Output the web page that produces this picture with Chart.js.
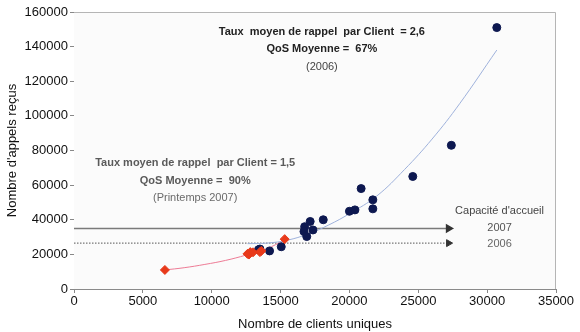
<!DOCTYPE html>
<html>
<head>
<meta charset="utf-8">
<script src="https://cdn.jsdelivr.net/npm/chart.js@4/dist/chart.umd.min.js"></script>
<style>
  html, body { margin: 0; padding: 0; background: #ffffff; }
  #wrap { width: 580px; height: 332px; }
</style>
</head>
<body>
<div id="wrap"><canvas id="c" width="580" height="332"></canvas></div>
<script>
// Clients uniques (x) vs appels reçus (y)
const clients2006 = [30700, 27400, 24600, 20850, 21700, 21700, 20000, 20400, 18100, 17150, 16750, 17350, 16700, 16900, 15050, 14200, 13500, 13400];
const appels2006  = [151000, 83000, 65000, 58000, 51500, 46300, 44900, 45700, 40000, 39000, 36000, 34100, 33200, 30300, 24400, 22000, 23100, 22700];

const clients2007 = [6600, 12600, 12800, 12700, 13000, 13600, 13500, 15300];
const appels2007  = [11000, 20300, 21300, 19900, 21200, 22000, 21300, 28800];

// Courbes de tendance
const tendance2006X = [12600, 14000, 15500, 17000, 18500, 20000, 22000, 24000, 26000, 28000, 30700];
const tendance2006Y = [26200, 26500, 28200, 31800, 37000, 43500, 53800, 69000, 86600, 107000, 138000];
const tendance2007X = [6600, 8000, 9500, 11000, 12500, 14000, 15300];
const tendance2007Y = [11000, 12300, 14200, 16500, 19600, 23300, 28300];

// Capacité d'accueil
const capaciteFinX = 27200;
const capacite2007 = 35000;
const capacite2006 = 26500;

const xTicks = [0, 5000, 10000, 15000, 20000, 25000, 30000, 35000];
const yTicks = [0, 20000, 40000, 60000, 80000, 100000, 120000, 140000, 160000];

const zip = (xs, ys) => xs.map((x, i) => ({ x: x, y: ys[i] }));

// Texts placed in data coordinates
const notes = [
  { x: 18000, y: 148500, text: 'Taux  moyen de rappel  par Client  = 2,6', bold: true, color: '#222222' },
  { x: 18000, y: 138600, text: 'QoS Moyenne =  67%', bold: true, color: '#222222' },
  { x: 18000, y: 128200, text: '(2006)', bold: false, color: '#444444' },
  { x: 8800, y: 72800, text: 'Taux moyen de rappel  par Client = 1,5', bold: true, color: '#5a5a5a' },
  { x: 8800, y: 62400, text: 'QoS Moyenne =  90%', bold: true, color: '#5a5a5a' },
  { x: 8800, y: 52600, text: '(Printemps 2007)', bold: false, color: '#6a6a6a' },
  { x: 30900, y: 45000, text: "Capacité d'accueil", bold: false, color: '#444444' },
  { x: 30900, y: 35200, text: '2007', bold: false, color: '#555555' },
  { x: 30900, y: 26000, text: '2006', bold: false, color: '#666666' }
];

const notesPlugin = {
  id: 'notes',
  beforeDatasetsDraw(chart) {
    const { ctx, chartArea: a } = chart;
    ctx.save();
    ctx.fillStyle = '#fbfbfb';
    ctx.fillRect(a.left, a.top, a.right - a.left, a.bottom - a.top);
    ctx.strokeStyle = '#b5b5b5';
    ctx.lineWidth = 1;
    ctx.beginPath();
    ctx.moveTo(a.left, a.top + 0.5);
    ctx.lineTo(a.right - 0.5, a.top + 0.5);
    ctx.lineTo(a.right - 0.5, a.bottom);
    ctx.stroke();
    ctx.restore();
  },
  afterDatasetsDraw(chart) {
    const { ctx, scales } = chart;
    ctx.save();
    ctx.textAlign = 'center';
    ctx.textBaseline = 'middle';
    notes.forEach(n => {
      ctx.font = (n.bold ? 'bold ' : '') + '11px "Liberation Sans", Arial, sans-serif';
      ctx.fillStyle = n.color;
      ctx.fillText(n.text, scales.x.getPixelForValue(n.x), scales.y.getPixelForValue(n.y));
    });
    ctx.restore();
  }
};

const fontFamily = '"Liberation Sans", Arial, sans-serif';

new Chart(document.getElementById('c'), {
  type: 'scatter',
  data: {
    datasets: [
      {
        label: 'Capacité 2007',
        type: 'line',
        data: zip([0, capaciteFinX], [capacite2007, capacite2007]),
        borderColor: '#7a7a7a',
        borderWidth: 1.5,
        pointStyle: 'triangle',
        rotation: 90,
        pointRadius: [0, 4],
        pointBackgroundColor: '#333333',
        pointBorderColor: '#333333',
        order: 5
      },
      {
        label: 'Capacité 2006',
        type: 'line',
        data: zip([0, capaciteFinX], [capacite2006, capacite2006]),
        borderColor: '#555555',
        borderWidth: 1,
        borderDash: [1.5, 1.5],
        pointStyle: 'triangle',
        rotation: 90,
        pointRadius: [0, 4],
        pointBackgroundColor: '#333333',
        pointBorderColor: '#333333',
        order: 5
      },
      {
        label: 'Tendance 2006',
        type: 'line',
        data: zip(tendance2006X, tendance2006Y),
        borderColor: '#9fb2dc',
        borderWidth: 1,
        pointRadius: 0,
        tension: 0.4,
        order: 4
      },
      {
        label: 'Tendance 2007',
        type: 'line',
        data: zip(tendance2007X, tendance2007Y),
        borderColor: '#ee7c96',
        borderWidth: 1,
        pointRadius: 0,
        tension: 0.4,
        order: 4
      },
      {
        label: '2006',
        data: zip(clients2006, appels2006),
        pointStyle: 'circle',
        pointRadius: 4,
        pointBackgroundColor: '#0d1850',
        pointBorderColor: '#0d1850',
        order: 2
      },
      {
        label: 'Printemps 2007',
        data: zip(clients2007, appels2007),
        pointStyle: 'rectRot',
        pointRadius: 4.5,
        pointBackgroundColor: '#e8391a',
        pointBorderColor: '#e8391a',
        order: 1
      }
    ]
  },
  options: {
    responsive: false,
    animation: false,
    layout: { padding: { left: 0, right: 24, top: 12, bottom: 0 } },
    plugins: {
      legend: { display: false },
      tooltip: { enabled: false }
    },
    scales: {
      x: {
        type: 'linear',
        min: 0,
        max: 35000,
        afterBuildTicks(scale) { scale.ticks = xTicks.map(v => ({ value: v })); },
        afterFit(scale) { scale.height = 43; },
        grid: { drawOnChartArea: false, drawTicks: true, tickLength: 4, color: '#888888' },
        border: { color: '#8a8a8a', width: 1 },
        ticks: {
          color: '#111111',
          font: { family: fontFamily, size: 13 },
          padding: 1,
          maxRotation: 0,
          callback: v => String(v)
        },
        title: {
          display: true,
          text: 'Nombre de clients uniques',
          color: '#111111',
          font: { family: fontFamily, size: 13 },
          padding: { top: 0, bottom: 0 }
        }
      },
      y: {
        type: 'linear',
        min: 0,
        max: 160000,
        afterBuildTicks(scale) { scale.ticks = yTicks.map(v => ({ value: v })); },
        afterFit(scale) { scale.width = 74; },
        grid: { drawOnChartArea: false, drawTicks: true, tickLength: 4, color: '#888888' },
        border: { color: '#8a8a8a', width: 1 },
        ticks: {
          color: '#111111',
          font: { family: fontFamily, size: 13 },
          padding: 2,
          callback: v => String(v)
        },
        title: {
          display: true,
          text: "Nombre d'appels reçus",
          color: '#111111',
          font: { family: fontFamily, size: 13 },
          padding: { top: 5, bottom: 0 }
        }
      }
    }
  },
  plugins: [notesPlugin]
});
</script>
</body>
</html>
